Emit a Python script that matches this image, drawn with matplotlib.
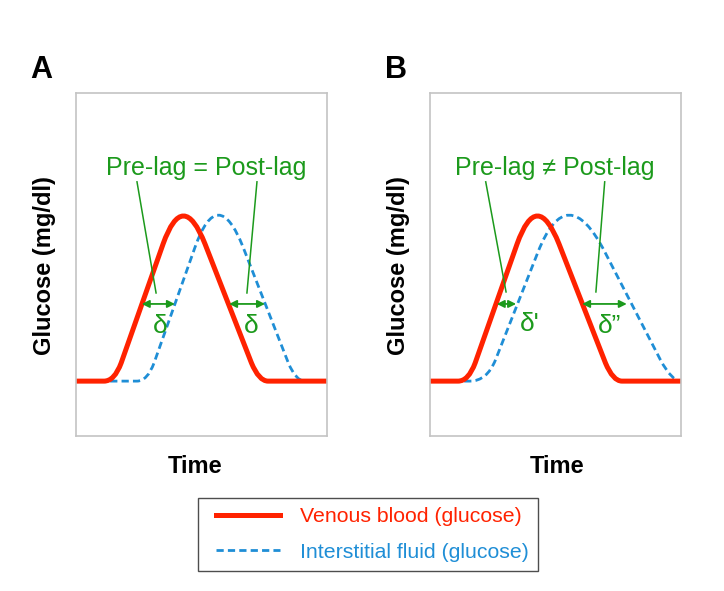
import matplotlib
matplotlib.use("Agg")
import matplotlib.pyplot as plt
from matplotlib.path import Path
from matplotlib.patches import PathPatch
from matplotlib.lines import Line2D
from matplotlib.legend_handler import HandlerLine2D

plt.rcParams['font.family'] = ['Liberation Sans', 'DejaVu Sans']

# schematic curves: vertices (time, glucose) in arbitrary units 0-100
# L = line to, Q = quadratic bezier control/end points (rounded corners)
red_t = [0, 11.2, 15.3, 18.0, 34.7, 42.6, 51.4, 69.9, 72.9, 76.5, 100]
red_g = [16, 16, 16, 21.3, 56.0, 72.3, 56.0, 21.3, 16, 16, 16]

blue_a_t = [0, 24.3, 28.4, 31.1, 47.4, 56.5, 66.6, 84.6, 87.6, 91.2, 100]
blue_a_g = [16, 16, 16, 21.3, 55.0, 73.8, 55.0, 21.3, 16, 16, 16]

blue_b_t = [0, 15.9, 22.7, 26.1, 43.0, 54.6, 69.7, 91.8, 96.3, 100, 100]
blue_b_g = [16, 16, 16, 22.2, 53.6, 75.2, 53.6, 22.2, 16, 16, 16]

seg_kind = ['M', 'L', 'Q', 'Q', 'L', 'Q', 'Q', 'L', 'Q', 'Q', 'L']

# lag arrows (t_start, t_end, glucose level) and their labels
lags_a = [(26.2, 39.4, 38.5), (61.0, 75.3, 38.5)]
lags_b = [(26.6, 34.3, 38.5), (60.6, 78.4, 38.5)]
lag_labels_a = [('δ', 33.5, 32.0), ('δ', 69.7, 32.0)]
lag_labels_b = [("δ'", 39.8, 32.6), ('δ”', 71.7, 32.0)]

# leader lines from the title down to the arrows
leaders_a = [((24.3, 74.1), (31.9, 41.7)), ((72.1, 74.1), (68.1, 41.7))]
leaders_b = [((22.2, 74.1), (30.3, 42.0)), ((69.6, 74.1), (66.1, 42.0))]

titles = ['Pre-lag = Post-lag', 'Pre-lag ≠ Post-lag']
panel_names = ['A', 'B']
series_names = ['Venous blood (glucose)', 'Interstitial fluid (glucose)']

RED = '#ff2200'
BLUE = '#1f8ed6'
GREEN = '#1c9a1c'
codes_map = {'M': Path.MOVETO, 'L': Path.LINETO, 'Q': Path.CURVE3}


def curve(ax, t, g, color, lw, ls):
    path = Path(list(zip(t, g)), [codes_map[k] for k in seg_kind])
    ax.add_patch(PathPatch(path, fill=False, edgecolor=color, lw=lw,
                           linestyle=ls, capstyle='butt', joinstyle='round'))


fig = plt.figure(figsize=(7.24, 5.91), dpi=100)
ax_a = fig.add_axes([76 / 724, 1 - 436 / 591, 251 / 724, 343 / 591])
ax_b = fig.add_axes([430 / 724, 1 - 436 / 591, 251 / 724, 343 / 591])

blue_dash = (0, (2.6, 1.5))
panels = [
    (ax_a, blue_a_t, blue_a_g, lags_a, lag_labels_a, leaders_a, titles[0], 52.0),
    (ax_b, blue_b_t, blue_b_g, lags_b, lag_labels_b, leaders_b, titles[1], 49.8),
]
for ax, bt, bg, lags, lag_lbls, leaders, title, title_t in panels:
    ax.set_xlim(0, 100)
    ax.set_ylim(0, 100)
    ax.set_xticks([])
    ax.set_yticks([])
    for sp in ax.spines.values():
        sp.set_color('#c4c4c4')
        sp.set_linewidth(1.2)
    curve(ax, bt, bg, BLUE, 2.0, blue_dash)
    curve(ax, red_t, red_g, RED, 3.6, '-')

    for t0, t1, g in lags:
        ax.annotate('', xy=(t1, g), xytext=(t0, g),
                    arrowprops=dict(arrowstyle='<|-|>', color=GREEN, lw=1.3,
                                    mutation_scale=11, shrinkA=0, shrinkB=0))
    for txt, t, g in lag_lbls:
        ax.text(t, g, txt, color=GREEN, fontsize=19, ha='center', va='center')
    for (x0, y0), (x1, y1) in leaders:
        ax.plot([x0, x1], [y0, y1], color=GREEN, lw=1.1)
    ax.text(title_t, 76.1, title, color=GREEN, fontsize=18, ha='center',
            va='baseline')

# axis labels and panel letters
for xc, name in [(41, 'A'), (396, 'B')]:
    fig.text(xc / 724, 1 - 70.5 / 591, name, fontsize=22, fontweight='bold',
             ha='center', va='center')
for xc in [45, 399]:
    fig.text(xc / 724, 1 - 266 / 591, 'Glucose (mg/dl)', fontsize=17,
             fontweight='bold', rotation=90, ha='center', va='center')
for xc in [195, 557]:
    fig.text(xc / 724, 1 - 466.5 / 591, 'Time', fontsize=17,
             fontweight='bold', ha='center', va='center')

handles = [Line2D([], [], color=RED, lw=3.6),
           Line2D([], [], color=BLUE, lw=2.0, linestyle=blue_dash)]
leg = fig.legend(handles, series_names, loc='center left',
                 bbox_to_anchor=(198 / 724, 1 - 534.5 / 591), fontsize=15.3,
                 frameon=True, fancybox=False, edgecolor='#222222',
                 handlelength=3.45, handletextpad=0.95, labelspacing=0.78,
                 borderpad=0.42, borderaxespad=0,
                 handler_map={Line2D: HandlerLine2D(xpad=0.43)})
leg.get_frame().set_linewidth(1.0)
for txt, col in zip(leg.get_texts(), [RED, BLUE]):
    txt.set_color(col)

fig.savefig('out.png', dpi=100)
